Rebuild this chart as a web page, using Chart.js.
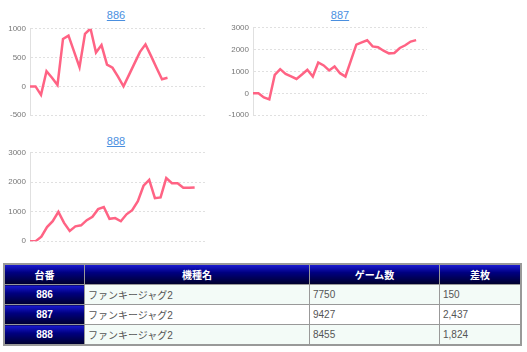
<!DOCTYPE html>
<html>
<head>
<meta charset="utf-8">
<script src="https://cdn.jsdelivr.net/npm/chart.js@4/dist/chart.umd.min.js"></script>
<style>
    body { margin: 0; background: #fff; font-family: "Liberation Sans", "Noto Sans CJK JP", sans-serif; }
    #page { position: relative; width: 527px; height: 352px; overflow: hidden; }
    .ttl { position: absolute; width: 100px; text-align: center; font-size: 11px; color: #4a8fdf; text-decoration: underline; }
    canvas { position: absolute; }
    table { position: absolute; left: 3px; top: 263px; width: 519px; border-collapse: collapse; border: 2px solid #999; font-size: 10px; }
    th, td { border: 1px solid #999; height: 19px; padding: 0 3px; color: #555; }
    th, td.no { background: linear-gradient(to bottom, #1a1ad0 0%, #000080 40%, #00002e 100%); color: #fff; font-weight: bold; text-align: center; }
    tr.odd td { background-color: #f3fbf7; }
    tr.odd td.no { background-color: transparent; }
</style>
</head>
<body>
<div id="page">
    <div class="ttl" style="left:66px;top:9px;">886</div>
    <div class="ttl" style="left:290px;top:9px;">887</div>
    <div class="ttl" style="left:66px;top:135px;">888</div>
    <canvas id="c886" width="208" height="104" style="left:0;top:20px;"></canvas>
    <canvas id="c887" width="206" height="105" style="left:223px;top:19px;"></canvas>
    <canvas id="c888" width="208" height="106" style="left:0;top:144px;"></canvas>
    <table>
        <tr><th style="width:73px">台番</th><th style="width:218px">機種名</th><th style="width:123px">ゲーム数</th><th>差枚</th></tr>
        <tr class="odd"><td class="no">886</td><td>ファンキージャグ2</td><td>7750</td><td>150</td></tr>
        <tr><td class="no">887</td><td>ファンキージャグ2</td><td>9427</td><td>2,437</td></tr>
        <tr class="odd"><td class="no">888</td><td>ファンキージャグ2</td><td>8455</td><td>1,824</td></tr>
    </table>
</div>
<script>
// slot data per machine (difference in medals)
const diff886 = [0, 0, -146, 265, 150, 25, 824, 882, 608, 335, 912, 1005, 589, 718, 377, 324, 170, 0, 200, 400, 600, 730, 530, 325, 125, 150];
const diff887 = [0, 0, -185, -277, 846, 1108, 892, 780, 660, 860, 1077, 770, 1415, 1277, 1046, 1230, 923, 770, 1500, 2230, 2330, 2430, 2150, 2110, 1950, 1830, 1846, 2077, 2200, 2370, 2437];
const diff888 = [0, 0, 152, 480, 678, 994, 620, 351, 503, 538, 713, 830, 1088, 1158, 760, 784, 678, 912, 1053, 1357, 1883, 2082, 1462, 1485, 2140, 1965, 1965, 1813, 1813, 1824];

// x slots shown on each chart
const slots886 = 33;
const slots887 = 33;
const slots888 = 32;

// y axis ranges [min, max, step]
const yAxis886 = [-500, 1000, 500];
const yAxis887 = [-1000, 3000, 1000];
const yAxis888 = [0, 3000, 1000];

function makeChart(id, values, slots, yAxis) {
    const ctx = document.getElementById(id).getContext('2d');
    const labels = [];
    for (let i = 0; i < slots; i++) labels.push(String(i + 1));

    return new Chart(ctx, {
        type: 'line',
        data: {
            labels: labels,
            datasets: [{
                data: values,
                borderColor: 'rgb(255, 99, 132)',
                borderWidth: 2.5,
                pointRadius: 0,
                tension: 0,
                fill: false
            }]
        },
        options: {
            responsive: false,
            animation: false,
            layout: { padding: { top: 0, right: 2, bottom: 0, left: 0 } },
            plugins: { legend: { display: false }, tooltip: { enabled: false } },
            scales: {
                x: { display: false },
                y: {
                    min: yAxis[0],
                    max: yAxis[1],
                    afterFit: s => { s.width = 30; },
                    ticks: {
                        stepSize: yAxis[2],
                        padding: 4,
                        color: '#777',
                        font: { size: 8, family: "'Liberation Sans', sans-serif" },
                        callback: v => String(v)
                    },
                    grid: { color: 'rgba(0, 0, 0, 0.12)', drawTicks: false },
                    border: { display: true, color: 'rgba(0, 0, 0, 0.12)', dash: [2, 2] }
                }
            }
        }
    });
}

makeChart('c886', diff886, slots886, yAxis886);
makeChart('c887', diff887, slots887, yAxis887);
makeChart('c888', diff888, slots888, yAxis888);
</script>
</body>
</html>
